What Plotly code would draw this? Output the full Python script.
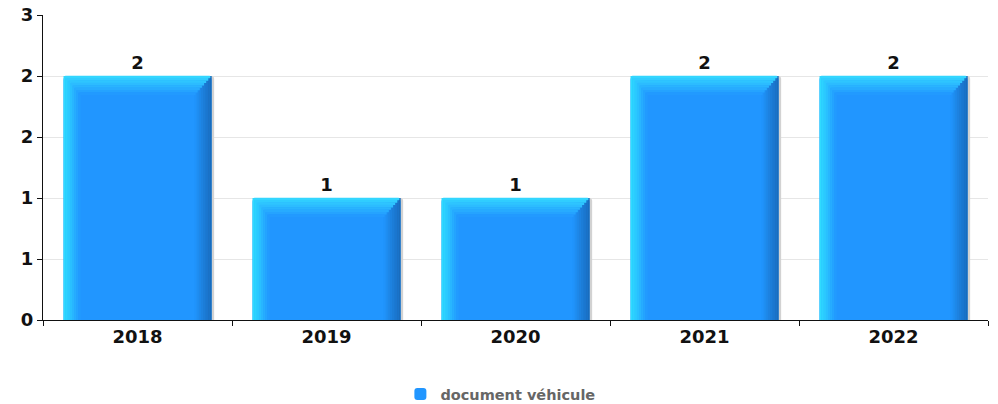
import plotly.graph_objects as go

years = ["2018", "2019", "2020", "2021", "2022"]
counts = [2, 1, 1, 2, 2]
series_name = "document véhicule"
ytick_vals = [0, 0.5, 1, 1.5, 2, 2.5]
ytick_text = ["0", "1", "1", "2", "2", "3"]

MAIN = (33, 150, 255)
CYAN = (48, 224, 255)
TOPC = (52, 218, 255)
DARK = (24, 105, 185)


def mix(c1, c2, t):
    return "rgb(%d,%d,%d)" % tuple(round(a + (b - a) * t) for a, b in zip(c1, c2))


W = 0.783          # bar width (category units)
SIDE = 0.09        # bevel width (category units)
BEV = 0.155        # top bevel height (value units)

fig = go.Figure()

# shadow
fig.add_bar(x=years, y=counts, width=W, offset=-W / 2 + 0.014,
            marker=dict(color="rgb(210,210,210)", line_width=0, cornerradius=3),
            showlegend=False, hoverinfo="skip")

# main bar
fig.add_bar(x=years, y=counts, width=W, offset=-W / 2, name=series_name,
            marker=dict(color=mix(MAIN, MAIN, 0), line_width=0, cornerradius=4),
            text=[str(v) for v in counts], textposition="outside",
            textfont=dict(family="DejaVu Sans", size=18, color="#111", weight="bold"),
            cliponaxis=False, showlegend=True)

# left gradient strip
n = 8
for i in range(n):
    fig.add_bar(x=years, y=counts, width=SIDE / n + 0.001, offset=-W / 2 + i * SIDE / n,
                marker=dict(color=mix(CYAN, MAIN, (i + 0.5) / n), line_width=0),
                showlegend=False, hoverinfo="skip")

# right dark strip
for i in range(n):
    fig.add_bar(x=years, y=counts, width=SIDE / n + 0.001, offset=W / 2 - SIDE + i * SIDE / n,
                marker=dict(color=mix(MAIN, DARK, (i + 0.5) / n), line_width=0),
                showlegend=False, hoverinfo="skip")

# top bevel (trapezoid made of slices)
m = 8
for i in range(m):
    inset = (i + 0.5) / m * SIDE
    fig.add_bar(x=years, y=[BEV / m + 0.002] * len(counts),
                base=[v - (i + 1) * BEV / m for v in counts],
                width=W - 2 * inset, offset=-W / 2 + inset,
                marker=dict(color=mix(TOPC, MAIN, (i + 0.5) / m), line_width=0,
                            cornerradius=4 if i == 0 else 0),
                showlegend=False, hoverinfo="skip")

fig.update_layout(
    width=998, height=404,
    barmode="overlay",
    plot_bgcolor="white", paper_bgcolor="white",
    margin=dict(l=43, r=10, t=15, b=84, autoexpand=False),
    font=dict(family="DejaVu Sans", color="#111"),
    legend=dict(orientation="h", xref="paper", yref="paper",
                x=0.484, xanchor="center", y=-0.243, yanchor="middle",
                font=dict(family="DejaVu Sans", size=14.5, color="#666", weight="bold")),
    xaxis=dict(type="category", showline=True, linecolor="#111", linewidth=1,
               ticks="outside", tickson="boundaries", ticklen=5, tickcolor="#111",
               tickfont=dict(family="DejaVu Sans", size=18, color="#111", weight="bold"),
               showgrid=False, range=[-0.5, 4.5], automargin=False),
    yaxis=dict(range=[0, 2.5], tickvals=ytick_vals, ticktext=ytick_text,
               showline=True, linecolor="#111", linewidth=1,
               ticks="outside", ticklen=5, tickcolor="#111",
               showgrid=True, gridcolor="#e6e6e6", gridwidth=1, zeroline=False,
               tickfont=dict(family="DejaVu Sans", size=18, color="#111", weight="bold"),
               automargin=False),
)

fig.write_html("out.html",
               config={"displayModeBar": False},
               post_script="document.body.style.margin='0';document.body.style.padding='0';")
